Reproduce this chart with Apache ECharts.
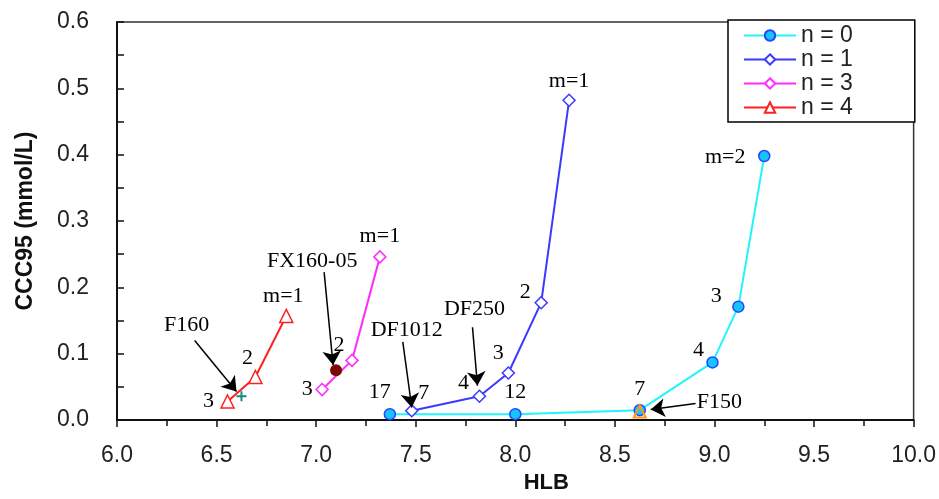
<!DOCTYPE html>
<html>
<head>
<meta charset="utf-8">
<script src="https://cdn.jsdelivr.net/npm/echarts@6/dist/echarts.min.js"></script>
<style>
  html, body { margin: 0; padding: 0; background: #fff; }
  #chart { width: 939px; height: 499px; }
</style>
</head>
<body>
<div id="chart"></div>
<script>
// HLB / CCC95 values
const hlbN0 = [7.37, 8.0, 8.625, 8.99, 9.12, 9.25];
const cccN0 = [0.009, 0.009, 0.015, 0.087, 0.171, 0.398];
const tagN0 = ['17', '12', '7', '4', '3', 'm=2'];

const hlbN1 = [7.48, 7.82, 7.965, 8.13, 8.27];
const cccN1 = [0.014, 0.036, 0.071, 0.177, 0.482];
const tagN1 = ['7', '4', '3', '2', 'm=1'];

const hlbN3 = [7.03, 7.18, 7.32];
const cccN3 = [0.046, 0.090, 0.246];
const tagN3 = ['3', '2', 'm=1'];

const hlbN4 = [6.555, 6.695, 6.85];
const cccN4 = [0.028, 0.065, 0.157];
const tagN4 = ['3', '2', 'm=1'];

// single products
const fx160 = [7.10, 0.075];
const f160 = [6.625, 0.036];
const f150 = [8.625, 0.013];

// annotation texts and arrows (from -> to, in data units)
const noteNames = ['F160', 'FX160-05', 'DF1012', 'DF250', 'F150'];
const noteAt = [[6.35, 0.143], [6.98, 0.239], [7.455, 0.136], [7.795, 0.167], [9.025, 0.027]];
const arrows = [
    [6.39, 0.120, 6.60, 0.043],
    [7.04, 0.223, 7.085, 0.083],
    [7.435, 0.118, 7.48, 0.019],
    [7.785, 0.140, 7.81, 0.052],
    [8.905, 0.025, 8.68, 0.016]
];

const chart = echarts.init(document.getElementById('chart'));

const serif = 'Liberation Serif';
const sans = 'Liberation Sans';

// label offsets (pixels) for each point tag
const offN0 = [[-10, -22], [0, -22], [0, -21], [-14, -12], [-22, -10], [-39, 1]];
const offN1 = [[12, -18], [-16, -13], [-10, -20], [-16, -10], [0, -19]];
const offN3 = [[-15, 0], [-13, -15], [0, -21]];
const offN4 = [[-19, 0], [-8, -19], [-3, -20]];

function pts(xs, ys, tags, offs) {
    return xs.map((x, i) => ({
        value: [x, ys[i]],
        label: { offset: offs[i], formatter: tags[i] }
    }));
}

const tagLabel = {
    show: true,
    position: 'inside',
    fontFamily: serif,
    fontSize: 22,
    color: '#000'
};

function lineSeries(name, data, lineColor, symbol, size, fill, border) {
    return {
        name: name,
        type: 'line',
        data: data,
        symbol: symbol,
        symbolSize: size,
        showAllSymbol: true,
        animation: false,
        lineStyle: { color: lineColor, width: 2 },
        itemStyle: { color: fill, borderColor: border, borderWidth: 1.5 },
        label: tagLabel,
        emphasis: { disabled: true },
        z: 3
    };
}

const option = {
    backgroundColor: '#fff',
    animation: false,
    grid: {
        left: 117, right: 23, top: 22, bottom: 71,
        show: true,
        borderColor: '#333',
        borderWidth: 1.5
    },
    legend: {
        data: ['n = 0', 'n = 1', 'n = 3', 'n = 4'],
        orient: 'vertical',
        left: 728,
        top: 20,
        itemWidth: 52,
        itemHeight: 13,
        itemGap: 1,
        padding: [4, 62, 3, 15],
        borderColor: '#000',
        borderWidth: 1.5,
        backgroundColor: '#fff',
        textStyle: { fontFamily: sans, fontSize: 23, color: '#222', lineHeight: 22 }
    },
    xAxis: {
        type: 'value',
        min: 6,
        max: 10,
        interval: 0.5,
        name: 'HLB',
        nameLocation: 'middle',
        nameGap: 50,
        nameTextStyle: { fontFamily: sans, fontSize: 22, fontWeight: 'bold', color: '#111', padding: [0, 0, 0, 62] },
        axisLine: { lineStyle: { color: '#111', width: 2 } },
        axisTick: { inside: false, length: 7, lineStyle: { color: '#111', width: 1.5 } },
        minorTick: { show: true, splitNumber: 2, length: 6, lineStyle: { color: '#111', width: 1.5 } },
        axisLabel: {
            fontFamily: sans, fontSize: 23, color: '#222', margin: 24,
            formatter: v => v.toFixed(1)
        },
        splitLine: { show: false }
    },
    yAxis: {
        type: 'value',
        min: 0,
        max: 0.6,
        interval: 0.1,
        name: 'CCC95 (mmol/L)',
        nameLocation: 'middle',
        nameRotate: 90,
        nameGap: 80,
        nameTextStyle: { fontFamily: sans, fontSize: 23, fontWeight: 'bold', color: '#111' },
        axisLine: { lineStyle: { color: '#111', width: 2 } },
        axisTick: { inside: true, length: 7, lineStyle: { color: '#111', width: 1.5 } },
        minorTick: { show: true, splitNumber: 2, length: 7, lineStyle: { color: '#111', width: 1.5 } },
        axisLabel: {
            fontFamily: sans, fontSize: 23, color: '#222', margin: 28,
            formatter: v => v.toFixed(1)
        },
        splitLine: { show: false }
    },
    series: [
        lineSeries('n = 0', pts(hlbN0, cccN0, tagN0, offN0), '#22f4ff', 'circle', 11, '#18c4ff', '#2046ff'),
        lineSeries('n = 1', pts(hlbN1, cccN1, tagN1, offN1), '#3a3aff', 'diamond', 12, '#fff', '#3a3aff'),
        lineSeries('n = 3', pts(hlbN3, cccN3, tagN3, offN3), '#ff2bff', 'diamond', 12, '#fff', '#ff2bff'),
        lineSeries('n = 4', pts(hlbN4, cccN4, tagN4, offN4), '#ff2020', 'triangle', 13, '#fff', '#ff2020'),
        {
            name: 'FX160-05',
            type: 'scatter',
            data: [fx160],
            symbol: 'circle',
            symbolSize: 12,
            itemStyle: { color: '#7a0a0a', opacity: 1 },
            emphasis: { disabled: true },
            z: 4
        },
        {
            name: 'F160',
            type: 'scatter',
            data: [f160],
            symbol: 'path://M4,0h2v4h4v2h-4v4h-2v-4h-4v-2h4z',
            symbolSize: 10,
            itemStyle: { color: '#1a8a80', opacity: 1 },
            emphasis: { disabled: true },
            z: 4
        },
        {
            name: 'F150',
            type: 'scatter',
            data: [f150],
            symbol: 'triangle',
            symbolSize: 12,
            itemStyle: { color: 'rgba(255,255,255,0)', borderColor: '#ff9a10', borderWidth: 2, opacity: 1 },
            emphasis: { disabled: true },
            z: 5
        },
        {
            name: 'notes',
            type: 'scatter',
            data: noteAt.map((p, i) => ({ value: p, name: noteNames[i] })),
            symbolSize: 1,
            itemStyle: { color: 'rgba(0,0,0,0)', opacity: 1 },
            label: {
                show: true,
                position: 'inside',
                formatter: p => p.name,
                fontFamily: serif,
                fontSize: 22,
                color: '#000'
            },
            emphasis: { disabled: true },
            markLine: {
                silent: true,
                animation: false,
                symbol: ['none', 'arrow'],
                symbolSize: 14,
                lineStyle: { color: '#000', width: 1.5, type: 'solid', opacity: 1 },
                itemStyle: { color: '#000' },
                label: { show: false },
                data: arrows.map(a => [{ coord: [a[0], a[1]] }, { coord: [a[2], a[3]] }])
            },
            z: 6
        }
    ]
};

chart.setOption(option);
window.addEventListener('resize', () => chart.resize());
</script>
</body>
</html>
